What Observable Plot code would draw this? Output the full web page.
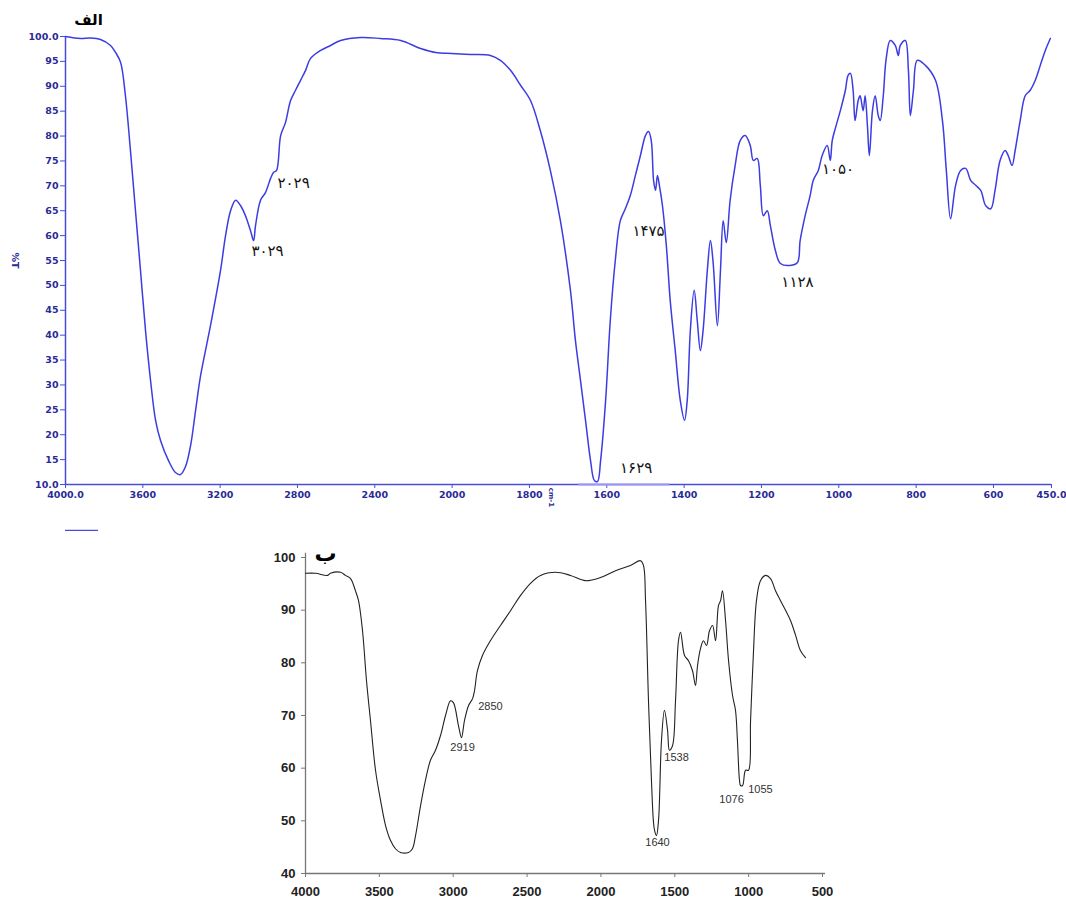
<!DOCTYPE html>
<html><head><meta charset="utf-8">
<script src="https://cdn.jsdelivr.net/npm/d3@7"></script>
<script src="https://cdn.jsdelivr.net/npm/@observablehq/plot@0.6"></script>
<style>
html,body{margin:0;padding:0;background:#fff;}
#wrap{position:relative;width:1066px;height:900px;overflow:hidden;}
#top{position:absolute;left:0;top:0;}
#bot{position:absolute;left:0;top:520px;}
svg{overflow:visible;}
</style></head><body><div id="wrap"><div id="top"></div><div id="bot"></div></div>
<script>
// ---------- Top spectrum (الف) ----------
const topWavenumber = [4000,3922,3871,3819,3767,3741,3715,3690,3664,3638,3612,3586,3560,3534,3508,3467,3431,3405,3379,3353,3327,3301,3250,3198,3172,3146,3120,3094,3069,3043,3027,3017,2991,2965,2939,2924,2908,2887,2862,2836,2810,2784,2758,2732,2680,2629,2577,2473,2370,2266,2163,2085,2003,
1952,1901,1875,1849,1823,1797,1772,1746,1720,1694,1681,1668,1655,1642,1632,1624,1616,1603,1591,1578,1565,1552,1539,1526,1513,1500,1492,1485,1479,1474,1469,1464,1456,1446,1436,1423,1410,1399,1392,1384,1374,1366,1358,1351,1340,1332,1325,1314,1306,1299,1291,1281,1268,1255,1242,1229,1221,1211,1203,1195,1185,1177,1164,1151,1126,1107,1100,1087,1074,1066,1053,1043,1030,1022,1017,1007,996,983,976,970,963,958,950,945,937,932,926,921,913,906,898,893,885,878,867,854,846,841,828,820,815,807,797,776,750,732,722,711,698,685,672,659,646,633,620,607,596,583,570,562,552,544,531,518,505,492,479,466,453];
const topTransmittance = [100,99.6,99.7,99.4,98.2,96.8,94.8,88.1,77.1,65.0,53.0,40.9,30.9,22.9,18.8,14.8,12.4,12.0,13.6,17.8,24.9,31.9,41.9,53.0,60.0,65.0,67.1,66.0,64.0,61.0,59.0,62.0,67.1,68.7,71.5,72.7,73.1,80.1,82.7,87.1,89.2,91.2,93.2,95.6,97.2,98.2,99.2,99.8,99.6,99.2,97.6,96.8,96.6,
96.4,96.2,95.2,93.2,90.2,87.1,81.1,73.1,63.0,49.0,38.9,30.9,22.9,14.8,10.8,10.6,14.8,26.9,42.9,55.0,63.0,65.4,68.1,72.1,76.1,80.1,80.9,79.1,71.1,69.1,72.1,70.1,66.0,58.0,47.0,36.9,26.9,22.9,26.9,40.9,49.0,42.9,36.9,40.9,53.0,59.0,54.6,41.9,53.0,63.0,58.6,67.1,74.1,79.1,80.1,78.1,75.1,75.5,70.1,64.0,65.0,62.0,57.0,54.4,54.0,54.6,59.0,64.0,68.1,71.1,73.1,76.1,78.1,75.1,79.1,82.1,85.1,89.2,92.2,92.6,89.2,83.1,87.1,88.1,85.1,88.1,82.1,76.1,85.1,88.1,84.1,83.1,88.1,95.2,99.2,98.2,96.2,98.2,99.2,93.2,84.1,89.2,95.2,94.2,91.2,83.1,73.1,63.4,70.1,73.1,73.5,71.1,70.1,69.1,66.0,65.4,69.1,75.1,77.1,76.1,74.1,77.1,83.1,88.1,89.2,91.2,94.2,97.2,99.6];
const topXTicks = [4000,3600,3200,2800,2400,2000,1800,1600,1400,1200,1000,800,600,450];
const topYTicks = [10,15,20,25,30,35,40,45,50,55,60,65,70,75,80,85,90,95,100];
const topLabels = ["۲۰۲۹","۳۰۲۹","۱۴۷۵","۱۶۲۹","۱۱۲۸","۱۰۵۰"];
const topLabelX = [2820,2955,1492,1524,1107,1002];
const topLabelY = [70.6,56.9,60.8,13.2,50.6,73.3];

// ---------- Bottom spectrum (ب) ----------
const botWavenumber = [4000,3932,3851,3831,3763,3729,3695,3662,3641,3614,3587,3560,3526,3492,3458,3425,3391,3357,3303,3276,3255,3221,3188,3154,3120,3086,3052,3018,2998,2964,2944,2924,2896,2869,2856,2836,2802,2748,2680,2612,2544,2477,2409,2307,2206,2104,2003,1901,1800,1732,1712,1698,1678,1658,1645,1637,1624,1610,1590,1570,1549,1536,1515,1495,1475,1461,1434,1407,1380,1360,1346,1326,1306,1285,1265,1244,1224,1204,1190,1177,1156,1136,1109,1089,1076,1062,1055,1041,1021,1001,987,967,947,920,886,852,818,784,716,682,649,615];
const botTransmittance = [97.0,97.0,96.6,97.0,97.2,96.6,96.0,93.7,91.8,86.1,76.6,69.0,59.6,53.9,49.1,46.3,44.7,44.0,44.0,44.7,47.2,52.9,57.7,61.5,63.4,66.2,70.0,72.8,72.4,68.0,65.8,69.0,71.9,73.2,74.7,78.5,81.4,84.2,87.1,89.9,92.8,95.1,96.6,97.2,96.6,95.6,96.2,97.5,98.5,99.4,98.5,91.8,72.8,57.7,50.0,48.2,47.2,50.1,65.3,71.0,67.2,63.4,64.3,72.8,84.2,85.8,81.4,80.4,78.5,75.7,79.5,82.7,84.2,83.3,86.1,87.1,84.2,90.9,91.8,93.7,87.9,80.4,73.8,71.0,65.3,57.7,56.7,56.7,59.6,59.6,69.0,82.3,91.8,95.6,96.6,96.0,93.7,91.8,88.0,85.2,82.3,81.0];
const botXTicks = [4000,3500,3000,2500,2000,1500,1000,500];
const botYTicks = [40,50,60,70,80,90,100];
const botLabels = ["2919","2850","1538","1640","1076","1055"];
const botLabelX = [2937,2748,1488,1617,1116,920];
const botLabelY = [63.9,71.7,62.0,45.9,54.1,56.0];

const blueLine = "#3c3ce2";
const blueAxis = "#4b4bd9";
const navy = "#2a2a96";

const topData = topWavenumber.map((w,i)=>({w, t: topTransmittance[i]}));
const botData = botWavenumber.map((w,i)=>({w, t: botTransmittance[i]}));
const topAnn = topLabels.map((s,i)=>({s, x: topLabelX[i], y: topLabelY[i]}));
const botAnn = botLabels.map((s,i)=>({s, x: botLabelX[i], y: botLabelY[i]}));

const topPlot = Plot.plot({
  width: 1066, height: 540,
  marginTop: 36, marginBottom: 56, marginLeft: 65, marginRight: 15,
  x: {type: "linear", domain: [4000, 2000, 450], range: [65, 451.6, 1051]},
  y: {domain: [10, 100], range: [484, 36]},
  style: {background: "transparent", fontFamily: "DejaVu Sans", overflow: "visible"},
  marks: [
    Plot.axisX({ticks: topXTicks, tickFormat: d => (d === 4000 || d === 450) ? d.toFixed(1) : String(d),
      tickSize: 4, tickPadding: 3, stroke: blueAxis, fill: navy, fontWeight: "bold", fontSize: 9.5, label: null}),
    Plot.axisY({ticks: topYTicks, tickFormat: d => (d === 100 || d === 10) ? d.toFixed(1) : String(d),
      tickSize: 5, tickPadding: 2, stroke: blueAxis, fill: navy, fontWeight: "bold", fontSize: 9.5, label: null}),
    Plot.ruleX([4000], {y1: 10, y2: 100, stroke: blueAxis, strokeWidth: 1.5}),
    Plot.ruleY([10], {x1: 4000, x2: 450, stroke: blueAxis, strokeWidth: 1.5}),
    Plot.ruleY([10], {x1: 1673, x2: 1438, stroke: "#9a9af2", strokeWidth: 2}),
    Plot.ruleY([0.8], {x1: 4000, x2: 3829, stroke: blueAxis, strokeWidth: 1.2}),
    Plot.line(topData, {x: "w", y: "t", stroke: blueLine, strokeWidth: 1.5, curve: "catmull-rom"}),
    Plot.text(topAnn, {x: "x", y: "y", text: "s", fill: "#111", fontSize: 15, fontFamily: "DejaVu Sans"}),
    Plot.text(["الف"], {x: 3881, y: 103.2, fill: "#000", fontSize: 15, fontWeight: "bold", fontFamily: "DejaVu Sans"}),
    Plot.text(["%T"], {x: 4260, y: 55, rotate: 90, fill: navy, fontSize: 9.5, fontWeight: "bold"}),
    Plot.text(["cm-1"], {x: 1743, y: 7.4, rotate: 90, fill: navy, fontSize: 7, fontWeight: "bold"})
  ]
});
document.getElementById("top").appendChild(topPlot);

const botPlot = Plot.plot({
  width: 1066, height: 380,
  marginTop: 37, marginBottom: 27, marginLeft: 305, marginRight: 244,
  x: {domain: [4000, 500]},
  y: {domain: [40, 100]},
  style: {background: "transparent", fontFamily: "Liberation Sans", overflow: "visible"},
  marks: [
    Plot.axisX({ticks: botXTicks, tickSize: 4, tickPadding: 9, stroke: "#777", fill: "#222", fontWeight: "bold", fontSize: 13, label: null, tickFormat: d => String(d)}),
    Plot.axisY({ticks: botYTicks, tickSize: 4, tickPadding: 6, stroke: "#777", fill: "#222", fontWeight: "bold", fontSize: 13, label: null}),
    Plot.ruleX([4000], {y1: 40, y2: 100.8, stroke: "#777", strokeWidth: 1.3}),
    Plot.ruleY([40], {x1: 4000, x2: 480, stroke: "#777", strokeWidth: 1.3}),
    Plot.line(botData, {x: "w", y: "t", stroke: "#222", strokeWidth: 1.1, curve: "catmull-rom"}),
    Plot.text(botAnn, {x: "x", y: "y", text: "s", fill: "#333", fontSize: 11}),
    Plot.text(["ب"], {x: 3865, y: 100.6, fill: "#000", fontSize: 22, fontWeight: "bold", fontFamily: "DejaVu Sans"})
  ]
});
document.getElementById("bot").appendChild(botPlot);
</script></body></html>
